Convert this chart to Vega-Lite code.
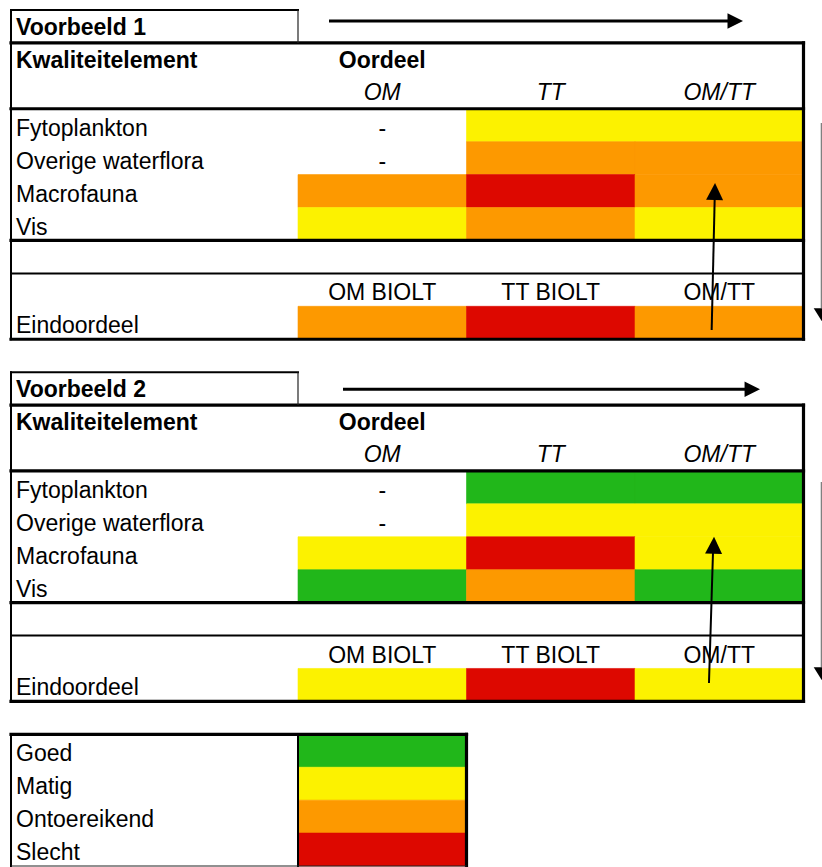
{
  "$schema": "https://vega.github.io/schema/vega-lite/v6.json",
  "width": 822,
  "height": 867,
  "autosize": "none",
  "padding": 0,
  "background": "white",
  "config": {"view": {"stroke": null}},
  "datasets": {
    "cells": [
      {"row": 3, "col": 2, "k": "Matig"}, {"row": 3, "col": 3, "k": "Matig"},
      {"row": 4, "col": 2, "k": "Ontoereikend"}, {"row": 4, "col": 3, "k": "Ontoereikend"},
      {"row": 5, "col": 1, "k": "Ontoereikend"}, {"row": 5, "col": 2, "k": "Slecht"}, {"row": 5, "col": 3, "k": "Ontoereikend"},
      {"row": 6, "col": 1, "k": "Matig"}, {"row": 6, "col": 2, "k": "Ontoereikend"}, {"row": 6, "col": 3, "k": "Matig"},
      {"row": 9, "col": 1, "k": "Ontoereikend"}, {"row": 9, "col": 2, "k": "Slecht"}, {"row": 9, "col": 3, "k": "Ontoereikend"},
      {"row": 14, "col": 2, "k": "Goed"}, {"row": 14, "col": 3, "k": "Goed"},
      {"row": 15, "col": 2, "k": "Matig"}, {"row": 15, "col": 3, "k": "Matig"},
      {"row": 16, "col": 1, "k": "Matig"}, {"row": 16, "col": 2, "k": "Slecht"}, {"row": 16, "col": 3, "k": "Matig"},
      {"row": 17, "col": 1, "k": "Goed"}, {"row": 17, "col": 2, "k": "Ontoereikend"}, {"row": 17, "col": 3, "k": "Goed"},
      {"row": 20, "col": 1, "k": "Matig"}, {"row": 20, "col": 2, "k": "Slecht"}, {"row": 20, "col": 3, "k": "Matig"},
      {"row": 22, "col": 1, "k": "Goed"}, {"row": 23, "col": 1, "k": "Matig"},
      {"row": 24, "col": 1, "k": "Ontoereikend"}, {"row": 25, "col": 1, "k": "Slecht"}
    ],
    "lines": [
      {"w": "thick", "xa": 0, "xb": 4, "ya": 1, "yb": 1},
      {"w": "thick", "xa": 0, "xb": 4, "ya": 3, "yb": 3},
      {"w": "thick", "xa": 0, "xb": 4, "ya": 7, "yb": 7},
      {"w": "thick", "xa": 0, "xb": 4, "ya": 10, "yb": 10},
      {"w": "thick", "xa": 4, "xb": 4, "ya": 1, "yb": 10},
      {"w": "medium", "xa": 0, "xb": 1, "ya": 0, "yb": 0},
      {"w": "medium", "xa": 0, "xb": 0, "ya": 0, "yb": 10},
      {"w": "medium", "xa": 0, "xb": 4, "ya": 8, "yb": 8},
      {"w": "thin", "xa": 1, "xb": 1, "ya": 0, "yb": 1},
      {"w": "thick", "xa": 0, "xb": 4, "ya": 12, "yb": 12},
      {"w": "thick", "xa": 0, "xb": 4, "ya": 14, "yb": 14},
      {"w": "thick", "xa": 0, "xb": 4, "ya": 18, "yb": 18},
      {"w": "thick", "xa": 0, "xb": 4, "ya": 21, "yb": 21},
      {"w": "thick", "xa": 4, "xb": 4, "ya": 12, "yb": 21},
      {"w": "medium", "xa": 0, "xb": 1, "ya": 11, "yb": 11},
      {"w": "medium", "xa": 0, "xb": 0, "ya": 11, "yb": 21},
      {"w": "medium", "xa": 0, "xb": 4, "ya": 19, "yb": 19},
      {"w": "thin", "xa": 1, "xb": 1, "ya": 11, "yb": 12},
      {"w": "thick", "xa": 0, "xb": 2, "ya": 22, "yb": 22},
      {"w": "thick", "xa": 2, "xb": 2, "ya": 22, "yb": 26},
      {"w": "medium", "xa": 0, "xb": 0, "ya": 22, "yb": 26},
      {"w": "medium", "xa": 1, "xb": 1, "ya": 22, "yb": 26},
      {"w": "thin", "xa": 0, "xb": 2, "ya": 26, "yb": 26}
    ],
    "arrows": [
      {"kind": "h", "xa": 1.184, "ya": 0.334, "xb": 3.56, "yb": 0.334, "tx": 3.641, "ty": 0.334},
      {"kind": "h", "xa": 1.267, "ya": 11.521, "xb": 3.66, "yb": 11.521, "tx": 3.742, "ty": 11.521},
      {"kind": "v", "xa": 3.455, "ya": 9.72, "xb": 3.473, "yb": 5.71, "tx": 3.475, "ty": 5.255},
      {"kind": "v", "xa": 3.439, "ya": 20.44, "xb": 3.463, "yb": 16.46, "tx": 3.469, "ty": 16.0},
      {"kind": "r", "xa": 4.106, "ya": 3.43, "xb": 4.106, "yb": 9.05, "tx": 4.108, "ty": 9.45},
      {"kind": "r", "xa": 4.106, "ya": 14.34, "xb": 4.106, "yb": 19.96, "tx": 4.108, "ty": 20.35}
    ],
    "texts": [
      {"s": "boldL", "row": 0, "col": 0, "label": "Voorbeeld 1"},
      {"s": "boldL", "row": 1, "col": 0, "label": "Kwaliteitelement"},
      {"s": "boldC", "row": 1, "col": 1.5, "label": "Oordeel"},
      {"s": "ital", "row": 2, "col": 1.5, "label": "OM"},
      {"s": "ital", "row": 2, "col": 2.5, "label": "TT"},
      {"s": "ital", "row": 2, "col": 3.5, "label": "OM/TT"},
      {"s": "lab", "row": 3, "col": 0, "label": "Fytoplankton"},
      {"s": "lab", "row": 4, "col": 0, "label": "Overige waterflora"},
      {"s": "lab", "row": 5, "col": 0, "label": "Macrofauna"},
      {"s": "lab", "row": 6, "col": 0, "label": "Vis"},
      {"s": "lab", "row": 9, "col": 0, "label": "Eindoordeel"},
      {"s": "mid", "row": 3, "col": 1.5, "label": "-"},
      {"s": "mid", "row": 4, "col": 1.5, "label": "-"},
      {"s": "mid", "row": 8, "col": 1.5, "label": "OM BIOLT"},
      {"s": "mid", "row": 8, "col": 2.5, "label": "TT BIOLT"},
      {"s": "mid", "row": 8, "col": 3.5, "label": "OM/TT"},
      {"s": "boldL", "row": 11, "col": 0, "label": "Voorbeeld 2"},
      {"s": "boldL", "row": 12, "col": 0, "label": "Kwaliteitelement"},
      {"s": "boldC", "row": 12, "col": 1.5, "label": "Oordeel"},
      {"s": "ital", "row": 13, "col": 1.5, "label": "OM"},
      {"s": "ital", "row": 13, "col": 2.5, "label": "TT"},
      {"s": "ital", "row": 13, "col": 3.5, "label": "OM/TT"},
      {"s": "lab", "row": 14, "col": 0, "label": "Fytoplankton"},
      {"s": "lab", "row": 15, "col": 0, "label": "Overige waterflora"},
      {"s": "lab", "row": 16, "col": 0, "label": "Macrofauna"},
      {"s": "lab", "row": 17, "col": 0, "label": "Vis"},
      {"s": "lab", "row": 20, "col": 0, "label": "Eindoordeel"},
      {"s": "mid", "row": 14, "col": 1.5, "label": "-"},
      {"s": "mid", "row": 15, "col": 1.5, "label": "-"},
      {"s": "mid", "row": 19, "col": 1.5, "label": "OM BIOLT"},
      {"s": "mid", "row": 19, "col": 2.5, "label": "TT BIOLT"},
      {"s": "mid", "row": 19, "col": 3.5, "label": "OM/TT"},
      {"s": "lab", "row": 22, "col": 0, "label": "Goed"},
      {"s": "lab", "row": 23, "col": 0, "label": "Matig"},
      {"s": "lab", "row": 24, "col": 0, "label": "Ontoereikend"},
      {"s": "lab", "row": 25, "col": 0, "label": "Slecht"}
    ]
  },
  "layer": [
    {
      "data": {"name": "cells"},
      "transform": [
        {"calculate": "datum.col + 1", "as": "col_end"},
        {"calculate": "datum.row + 1", "as": "row_end"}
      ],
      "mark": {"type": "rect", "strokeWidth": 0.6},
      "encoding": {
        "x": {"field": "col", "type": "quantitative", "scale": {"domain": [0, 1, 4], "range": [11, 298, 803.5], "nice": false, "zero": false}, "axis": null},
        "x2": {"field": "col_end"},
        "y": {"field": "row", "type": "quantitative", "scale": {"domain": [0, 26], "range": [10, 866], "nice": false, "zero": false}, "axis": null},
        "y2": {"field": "row_end"},
        "fill": {"field": "k", "type": "nominal", "scale": {"domain": ["Goed", "Matig", "Ontoereikend", "Slecht"], "range": ["#21B71A", "#FCF200", "#FD9900", "#DD0800"]}, "legend": null},
        "stroke": {"field": "k", "type": "nominal", "scale": {"domain": ["Goed", "Matig", "Ontoereikend", "Slecht"], "range": ["#21B71A", "#FCF200", "#FD9900", "#DD0800"]}, "legend": null}
      }
    },
    {
      "data": {"name": "lines"},
      "transform": [{"filter": "datum.w === 'thick'"}],
      "mark": {"type": "rule", "strokeWidth": 3.2, "color": "black", "strokeCap": "square"},
      "encoding": {
        "x": {"field": "xa", "type": "quantitative", "scale": {"domain": [0, 1, 4], "range": [11, 298, 803.5], "nice": false, "zero": false}, "axis": null},
        "x2": {"field": "xb"},
        "y": {"field": "ya", "type": "quantitative", "scale": {"domain": [0, 26], "range": [10, 866], "nice": false, "zero": false}, "axis": null},
        "y2": {"field": "yb"}
      }
    },
    {
      "data": {"name": "lines"},
      "transform": [{"filter": "datum.w === 'medium'"}],
      "mark": {"type": "rule", "strokeWidth": 2, "color": "black", "strokeCap": "square"},
      "encoding": {
        "x": {"field": "xa", "type": "quantitative", "axis": null},
        "x2": {"field": "xb"},
        "y": {"field": "ya", "type": "quantitative", "axis": null},
        "y2": {"field": "yb"}
      }
    },
    {
      "data": {"name": "lines"},
      "transform": [{"filter": "datum.w === 'thin'"}],
      "mark": {"type": "rule", "strokeWidth": 1.2, "color": "#222222"},
      "encoding": {
        "x": {"field": "xa", "type": "quantitative", "axis": null},
        "x2": {"field": "xb"},
        "y": {"field": "ya", "type": "quantitative", "axis": null},
        "y2": {"field": "yb"}
      }
    },
    {
      "data": {"name": "texts"},
      "transform": [{"filter": "datum.s === 'boldL'"}],
      "mark": {"type": "text", "font": "Liberation Sans", "fontSize": 23, "fontWeight": "bold", "align": "left", "baseline": "alphabetic", "dx": 5, "dy": 25, "color": "black"},
      "encoding": {
        "x": {"field": "col", "type": "quantitative", "axis": null},
        "y": {"field": "row", "type": "quantitative", "axis": null},
        "text": {"field": "label"}
      }
    },
    {
      "data": {"name": "texts"},
      "transform": [{"filter": "datum.s === 'boldC'"}],
      "mark": {"type": "text", "font": "Liberation Sans", "fontSize": 23, "fontWeight": "bold", "align": "center", "baseline": "alphabetic", "dy": 25, "color": "black"},
      "encoding": {
        "x": {"field": "col", "type": "quantitative", "axis": null},
        "y": {"field": "row", "type": "quantitative", "axis": null},
        "text": {"field": "label"}
      }
    },
    {
      "data": {"name": "texts"},
      "transform": [{"filter": "datum.s === 'ital'"}],
      "mark": {"type": "text", "font": "Liberation Sans", "fontSize": 23, "fontStyle": "italic", "align": "center", "baseline": "alphabetic", "dy": 24, "color": "black"},
      "encoding": {
        "x": {"field": "col", "type": "quantitative", "axis": null},
        "y": {"field": "row", "type": "quantitative", "axis": null},
        "text": {"field": "label"}
      }
    },
    {
      "data": {"name": "texts"},
      "transform": [{"filter": "datum.s === 'lab'"}],
      "mark": {"type": "text", "font": "Liberation Sans", "fontSize": 23, "align": "left", "baseline": "alphabetic", "dx": 5, "dy": 27, "color": "black"},
      "encoding": {
        "x": {"field": "col", "type": "quantitative", "axis": null},
        "y": {"field": "row", "type": "quantitative", "axis": null},
        "text": {"field": "label"}
      }
    },
    {
      "data": {"name": "texts"},
      "transform": [{"filter": "datum.s === 'mid'"}],
      "mark": {"type": "text", "font": "Liberation Sans", "fontSize": 23, "align": "center", "baseline": "alphabetic", "dy": 27, "color": "black"},
      "encoding": {
        "x": {"field": "col", "type": "quantitative", "axis": null},
        "y": {"field": "row", "type": "quantitative", "axis": null},
        "text": {"field": "label"}
      }
    },
    {
      "data": {"name": "arrows"},
      "transform": [{"filter": "datum.kind === 'h'"}],
      "mark": {"type": "rule", "strokeWidth": 3, "color": "black"},
      "encoding": {
        "x": {"field": "xa", "type": "quantitative", "axis": null},
        "x2": {"field": "xb"},
        "y": {"field": "ya", "type": "quantitative", "axis": null},
        "y2": {"field": "yb"}
      }
    },
    {
      "data": {"name": "arrows"},
      "transform": [{"filter": "datum.kind === 'v'"}],
      "mark": {"type": "rule", "strokeWidth": 2, "color": "black"},
      "encoding": {
        "x": {"field": "xa", "type": "quantitative", "axis": null},
        "x2": {"field": "xb"},
        "y": {"field": "ya", "type": "quantitative", "axis": null},
        "y2": {"field": "yb"}
      }
    },
    {
      "data": {"name": "arrows"},
      "transform": [{"filter": "datum.kind === 'r'"}],
      "mark": {"type": "rule", "strokeWidth": 1.3, "color": "#808080"},
      "encoding": {
        "x": {"field": "xa", "type": "quantitative", "axis": null},
        "x2": {"field": "xb"},
        "y": {"field": "ya", "type": "quantitative", "axis": null},
        "y2": {"field": "yb"}
      }
    },
    {
      "data": {"name": "arrows"},
      "transform": [{"filter": "datum.kind === 'h'"}],
      "mark": {"type": "point", "shape": "M0,0L-2,-1L-2,1Z", "size": 240, "filled": true, "opacity": 1, "color": "black", "strokeWidth": 0},
      "encoding": {
        "x": {"field": "tx", "type": "quantitative", "axis": null},
        "y": {"field": "ty", "type": "quantitative", "axis": null}
      }
    },
    {
      "data": {"name": "arrows"},
      "transform": [{"filter": "datum.kind === 'v'"}],
      "mark": {"type": "point", "shape": "M0,0L-1,2L1,2Z", "size": 289, "angle": 1.5, "filled": true, "opacity": 1, "color": "black", "strokeWidth": 0},
      "encoding": {
        "x": {"field": "tx", "type": "quantitative", "axis": null},
        "y": {"field": "ty", "type": "quantitative", "axis": null}
      }
    },
    {
      "data": {"name": "arrows"},
      "transform": [{"filter": "datum.kind === 'r'"}],
      "mark": {"type": "point", "shape": "M0,0L-1,-1.6L1,-1.6Z", "size": 256, "filled": true, "opacity": 1, "color": "black", "strokeWidth": 0},
      "encoding": {
        "x": {"field": "tx", "type": "quantitative", "axis": null},
        "y": {"field": "ty", "type": "quantitative", "axis": null}
      }
    }
  ]
}
